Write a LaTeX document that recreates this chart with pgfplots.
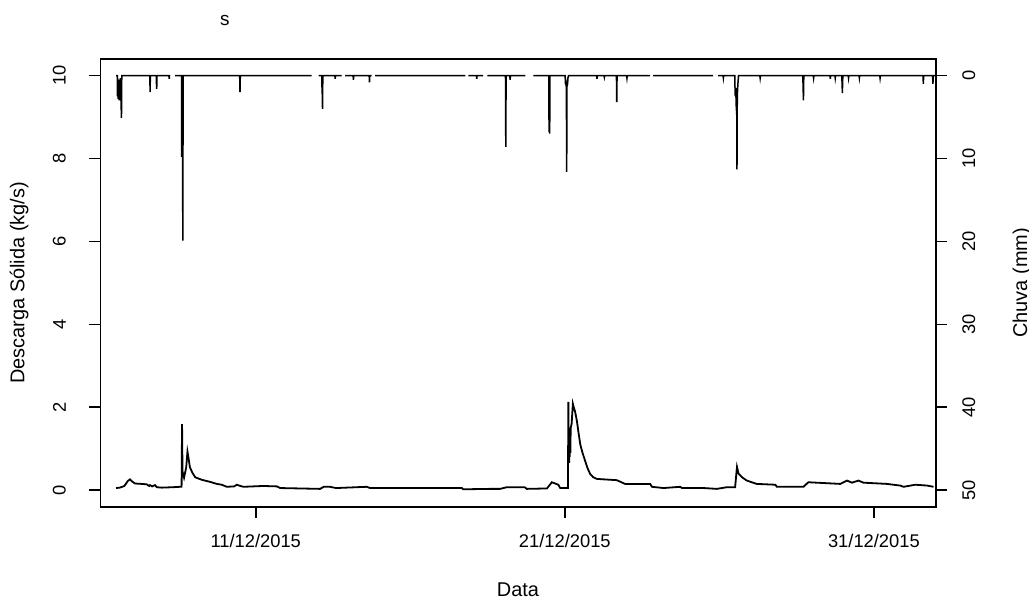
\documentclass[border=0pt]{standalone}
\usepackage{pgfplots}
\pgfplotsset{compat=1.18}
\usepackage{fontspec}
\setmainfont{Liberation Sans}

\pgfplotstableread{
x y
6.48 0.05
6.60 0.06
6.75 0.10
6.86 0.22
6.93 0.26
7.00 0.21
7.09 0.16
7.30 0.15
7.47 0.14
7.55 0.10
7.58 0.12
7.65 0.09
7.74 0.12
7.80 0.07
7.96 0.06
8.31 0.07
8.55 0.08
8.60 0.08
8.615 1.59
8.63 0.45
8.68 0.30
8.75 0.55
8.79 0.93
8.83 0.75
8.87 0.55
8.95 0.42
9.04 0.31
9.25 0.25
9.52 0.20
9.74 0.15
9.90 0.13
10.06 0.08
10.30 0.09
10.39 0.13
10.50 0.10
10.60 0.08
11.24 0.10
11.68 0.09
11.79 0.05
13.08 0.03
13.20 0.08
13.40 0.08
13.60 0.05
14.59 0.08
14.70 0.05
17.67 0.05
17.71 0.02
18.58 0.03
18.91 0.03
19.12 0.07
19.70 0.07
19.77 0.03
20.42 0.04
20.58 0.19
20.79 0.13
20.85 0.05
21.06 0.05
21.10 0.05
21.115 2.13
21.12 0.70
21.13 1.50
21.14 0.66
21.15 1.40
21.16 0.80
21.17 1.30
21.18 0.90
21.19 1.50
21.22 1.60
21.26 2.08
21.28 2.02
21.33 1.90
21.39 1.67
21.45 1.35
21.50 1.10
21.58 0.88
21.66 0.70
21.74 0.52
21.82 0.39
21.92 0.31
22.04 0.27
22.68 0.24
22.95 0.15
23.76 0.15
23.82 0.08
24.19 0.05
24.73 0.08
24.79 0.05
25.49 0.05
25.92 0.03
26.24 0.07
26.51 0.07
26.57 0.56
26.62 0.40
26.75 0.30
26.89 0.23
27.21 0.15
27.81 0.13
27.86 0.08
28.72 0.08
28.88 0.19
29.91 0.15
30.13 0.23
30.29 0.18
30.50 0.23
30.66 0.18
31.42 0.15
31.85 0.11
31.96 0.08
32.34 0.13
32.72 0.11
32.93 0.08
}\sedtable

\pgfplotstableread{
x y
6.48 0
6.52 0
6.525 2.5
6.53 0.3
6.55 2.8
6.56 0.5
6.58 3.0
6.59 1.0
6.61 2.8
6.62 0.3
6.655 5.1
6.665 0
7.575 0
7.58 2.0
7.59 0
7.78 0
7.785 1.0
7.79 0
7.795 1.6
7.805 0
8.19 0
8.20 0.4
8.21 0
8.23 0
8.30 nan
8.39 0
8.60 0
8.605 9.8
8.61 3
8.62 9.8
8.63 5
8.64 19.9
8.65 0
10.48 0
10.49 2.0
10.50 0
12.81 0
12.90 nan
13.03 0
13.14 0
13.145 2.2
13.15 1
13.16 4.0
13.17 0
13.56 0
13.57 0.4
13.58 0
13.78 0
13.83 nan
13.89 0
14.15 0
14.16 0.5
14.17 0
14.67 0
14.68 0.8
14.69 0
14.75 0
14.80 nan
14.86 0
17.78 0
17.83 nan
17.88 0
18.14 0
18.15 0.4
18.16 0
18.36 0
18.42 nan
18.49 0
19.08 0
19.09 8.6
19.10 0
19.22 0
19.23 0.5
19.24 0
19.72 0
19.85 nan
19.98 0
20.48 0
20.49 6.8
20.50 0
20.51 7.0
20.52 0
21.01 0
21.02 1.0
21.03 0.5
21.04 1.3
21.05 1.0
21.06 11.6
21.07 1.3
21.09 1.0
21.10 0.3
21.12 0
22.03 0
22.04 0.4
22.05 0
22.27 0
22.28 0.2
22.29 0
22.67 0
22.68 3.2
22.69 0
23.00 0
23.01 0.3
23.02 0
23.76 0
23.81 nan
23.86 0
25.80 0
25.88 nan
25.96 0
26.12 0
26.13 0.3
26.14 0
26.50 0
26.51 2.4
26.53 1.5
26.55 4.2
26.56 2.5
26.57 11.3
26.58 2.4
26.60 1.0
26.62 0
27.31 0
27.32 0.3
27.33 0
28.70 0
28.71 1.4
28.72 3.0
28.73 0.5
28.74 0
29.04 0
29.05 0.3
29.06 0
29.58 0
29.59 0.4
29.60 0
29.74 0
29.75 0.3
29.76 0
29.96 0
29.97 0.8
29.98 2.1
29.99 0.5
30.00 0
30.17 0
30.18 0.3
30.19 0
30.52 0
30.53 0.3
30.54 0
31.19 0
31.20 0.3
31.21 0
32.59 0
32.60 1.0
32.61 0
32.90 0
32.91 1.0
32.92 0
32.98 0
}\raintable

\pgfplotsset{
  common/.style={
    at={(0,0)}, anchor=south west,
    scale only axis, width=417.7bp, height=223.85bp,
    xmin=5.97, xmax=33.0,
    tick align=outside, major tick length=5.75bp,
    axis line style={line width=0.8bp},
    every tick/.style={black, line width=0.8bp},
    tick label style={font=\fontsize{9.2}{10}\selectfont},
    label style={font=\fontsize{9.2}{10}\selectfont},
    /pgf/number format/assume math mode=true,
    unbounded coords=jump,
  }
}

\begin{document}
\begin{tikzpicture}
\path[use as bounding box] (-50.15bp,-46.15bp) rectangle (464.35bp,253.35bp);
\begin{axis}[common,
  ymin=-0.4, ymax=10.4,
  xtick pos=bottom, ytick pos=left,
  xtick={11,21,31},
  xticklabels={11/12/2015,21/12/2015,31/12/2015},
  ytick={0,2,4,6,8,10},
  yticklabel={\rotatebox{90}{\pgfmathprintnumber{\tick}}},
  xticklabel shift=4.5bp,
  yticklabel shift=8bp,
  xlabel={Data},
  ylabel={Descarga Sólida (kg/s)},
  every axis x label/.style={at={(axis description cs:0.5,-0.186)}, anchor=center},
  every axis y label/.style={at={(axis description cs:-0.0973,0.5)}, rotate=90, anchor=center},
  title={s},
  every axis title/.style={at={(axis description cs:0.149,1.0849)}, anchor=center, font=\fontsize{9.5}{10}\selectfont},
]
\addplot[black, line width=0.9bp, mark=none] table[x=x,y=y] {\sedtable};
\end{axis}
\begin{axis}[common,
  ymin=-2, ymax=52, y dir=reverse,
  axis x line=none, axis y line*=right,
  ytick={0,10,20,30,40,50},
  yticklabel={\rotatebox{90}{\pgfmathprintnumber{\tick}}},
  yticklabel shift=4bp,
  ylabel={Chuva (mm)},
  every axis y label/.style={at={(axis description cs:1.1033,0.5)}, rotate=90, anchor=center},
]
\addplot[black, line width=0.75bp, mark=none] table[x=x,y=y] {\raintable};
\end{axis}
\end{tikzpicture}
\end{document}
